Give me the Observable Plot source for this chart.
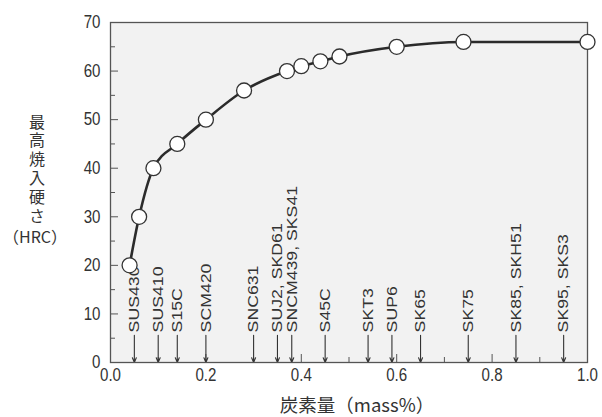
<!DOCTYPE html>
<html><head><meta charset="utf-8">
<script src="https://cdn.jsdelivr.net/npm/d3@7"></script>
<script src="https://cdn.jsdelivr.net/npm/@observablehq/plot@0.6"></script>
<style>
html,body{margin:0;padding:0;background:#fff;}
#chart{width:602px;height:417px;}
</style></head><body><div id="chart"></div>
<script>
const carbon = [0.04, 0.06, 0.09, 0.14, 0.20, 0.28, 0.37, 0.40, 0.44, 0.48, 0.60, 0.74, 1.00];
const hardness = [20, 30, 40, 45, 50, 56, 60, 61, 62, 63, 65, 66, 66];
const steelNames = ["SUS430","SUS410","S15C","SCM420","SNC631","SUJ2, SKD61","SNCM439, SKS41","S45C","SKT3","SUP6","SK65","SK75","SK85, SKH51","SK95, SKS3"];
const steelCarbon = [0.05, 0.10, 0.14, 0.20, 0.30, 0.35, 0.38, 0.45, 0.54, 0.59, 0.65, 0.75, 0.85, 0.95];
const xTicks = [0, 0.2, 0.4, 0.6, 0.8, 1.0];
const xMinorTicks = [0.1, 0.3, 0.5, 0.7, 0.9];
const yTicks = [0, 10, 20, 30, 40, 50, 60, 70];
const yMinorTicks = [5, 15, 25, 35, 45, 55, 65];
const yLabelMain = "最高焼入硬さ";
const yLabelUnit = "（HRC）";
const xLabel = "炭素量（mass%）";

const pts = carbon.map((c, i) => ({c, h: hardness[i]}));
const steels = steelNames.map((n, i) => ({n, c: steelCarbon[i]}));
const ink = "#333";
const arrowTop = 5.6, labelBase = 6.2;

const svg = Plot.plot({
  width: 602, height: 417,
  marginLeft: 110, marginRight: 15, marginTop: 22, marginBottom: 55,
  x: {domain: [0, 1]},
  y: {domain: [0, 70]},
  style: {fontFamily: "'Liberation Sans', Arial, sans-serif", background: "#fff", color: ink},
  marks: [
    Plot.frame({fill: "#f2f2f2", stroke: null}),
    Plot.axisY(yTicks, {tickSize: 8, dx: 8, fill: "none", stroke: "#555", label: null}),
    Plot.axisY(yMinorTicks, {tickSize: 5, dx: 5, fill: "none", stroke: "#555", label: null}),
    Plot.axisY(yTicks, {tickSize: 0, tickPadding: 10, fontSize: 18, fill: ink, label: null}),
    Plot.axisX(xTicks, {tickSize: 8, dy: -8, fill: "none", stroke: "#555", label: null}),
    Plot.axisX(xMinorTicks, {tickSize: 5, dy: -5, fill: "none", stroke: "#555", label: null}),
    Plot.axisX(xTicks, {tickSize: 0, tickPadding: 6, fontSize: 18, fill: ink, tickFormat: d3.format(".1f"), label: null}),
    Plot.arrow(steels, {x1: "c", x2: "c", y1: arrowTop, y2: 0, stroke: ink, strokeWidth: 1.1, headLength: 7, headAngle: 45}),
    Plot.text(steels, {x: "c", y: labelBase, text: "n", rotate: -90, textAnchor: "start", fontSize: 15, fill: ink}),
    Plot.line(pts, {x: "c", y: "h", curve: "monotone-x", stroke: "#2b2b2b", strokeWidth: 2.6}),
    Plot.frame({stroke: "#555", strokeWidth: 1.3}),
    Plot.dot(pts, {x: "c", y: "h", r: 7.5, fill: "#fff", stroke: "#333", strokeWidth: 1.3})
  ]
});

const s = d3.select(svg);
s.selectAll("text").each(function() {
  const t = this.getAttribute("transform") || "";
  const g = this.parentNode;
  const lab = (g && g.getAttribute && g.getAttribute("aria-label")) || "";
  if (t.includes("rotate(-90)")) this.setAttribute("transform", t + " scale(1.18,1)");
  else if (lab.includes("tick label")) this.setAttribute("transform", t + " scale(0.84,1)");
});

const cjk = "'Noto Sans CJK JP', sans-serif";
s.append("text").attr("font-family", cjk).attr("font-size", 16).attr("fill", ink)
  .attr("x", 37).attr("y", 170)
  .style("writing-mode", "vertical-rl").style("letter-spacing", "2.8px")
  .text(yLabelMain);
s.append("text").attr("font-family", cjk).attr("font-size", 16).attr("fill", ink).attr("text-anchor", "middle")
  .attr("x", 35).attr("y", 237).attr("dy", "0.35em").text(yLabelUnit);

s.append("text").attr("font-family", cjk).attr("font-size", 18.5).attr("fill", ink)
  .attr("text-anchor", "middle").attr("x", 357).attr("y", 406).attr("dy", "0.35em").text(xLabel);

document.getElementById("chart").appendChild(svg);
</script>
</body></html>
